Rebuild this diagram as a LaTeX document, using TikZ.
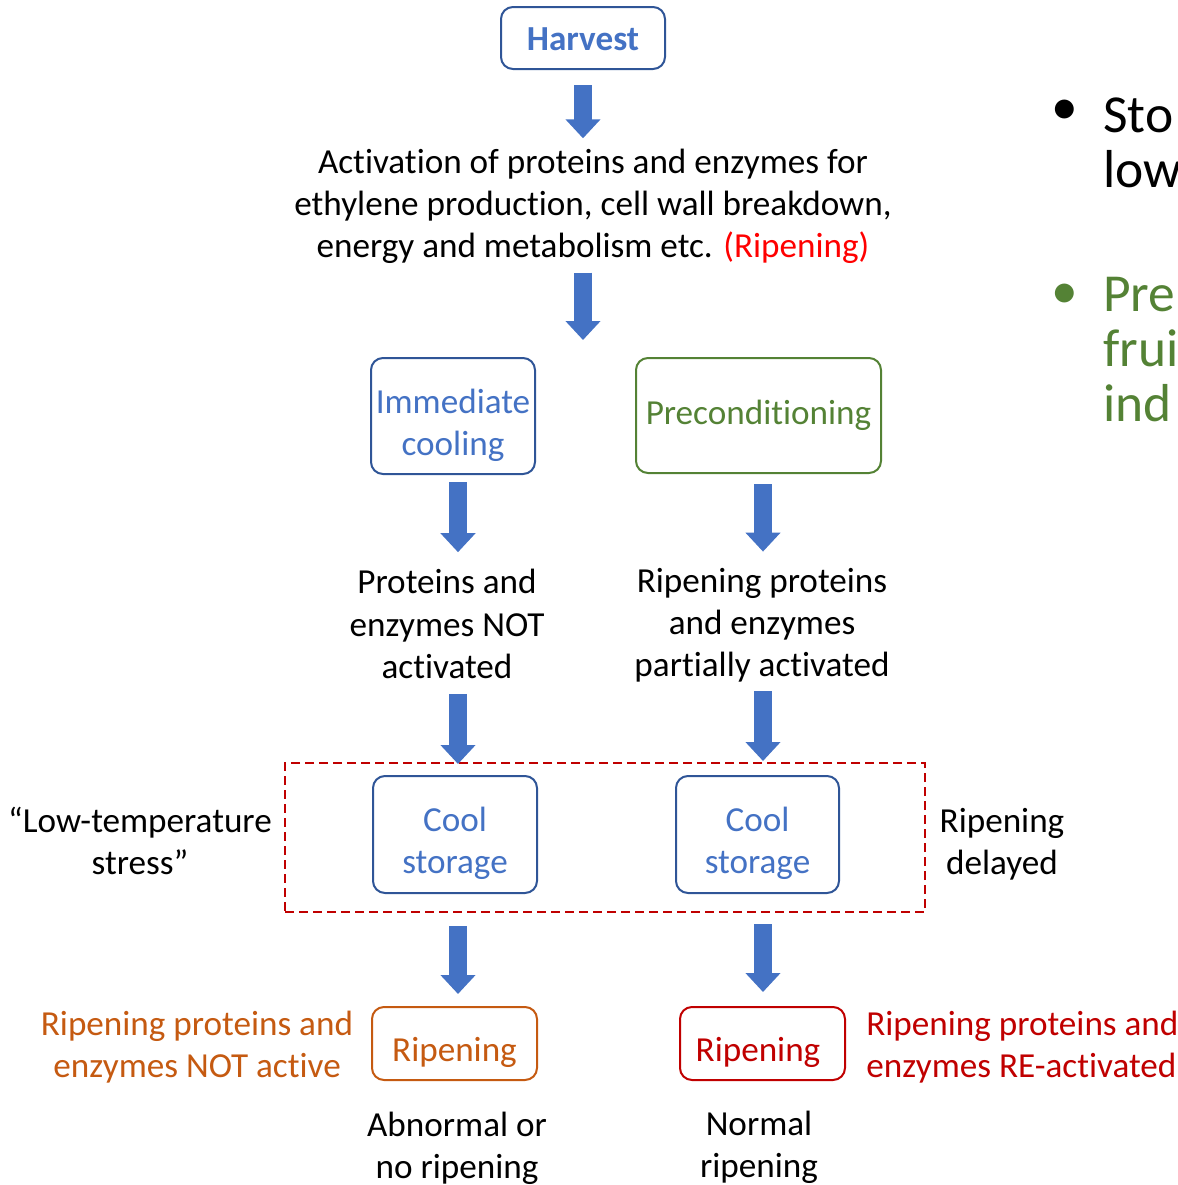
\documentclass[tikz,border=0pt]{standalone}
\usepackage{fontspec}
\setmainfont{Carlito}[Ligatures={NoCommon}]
\usetikzlibrary{arrows.meta}

\definecolor{boxblue}{HTML}{2F5597}
\definecolor{textblue}{HTML}{4472C4}
\definecolor{arrowblue}{HTML}{4472C4}
\definecolor{precgreen}{HTML}{548235}
\definecolor{ripeorange}{HTML}{C55A11}
\definecolor{ripedark}{HTML}{C00000}
\definecolor{ripered}{HTML}{FF0000}

\newlength\unitpx
\setlength\unitpx{0.025cm}
\newcommand\flowfont{\fontsize{25}{30}\selectfont}
\newcommand\sidefont{\fontsize{38}{39}\selectfont}

\begin{document}
\begin{tikzpicture}[x=0.025cm, y=-0.025cm,
	flowbox/.style={draw, rounded corners=12\unitpx, line width=2\unitpx, inner sep=0},
	txt/.style={inner sep=0, align=center, font=\flowfont},
	bigarrow/.style={draw=arrowblue, line width=18\unitpx, -{Triangle[width=0.85cm, length=0.475cm]}}]
	\useasboundingbox (0,0) rectangle (1178,1185);
	\clip (0,0) rectangle (1178,1185);

	% main column
	\node[flowbox, draw=boxblue, minimum width=164\unitpx, minimum height=62\unitpx] (harvest) at (583,38) {};
	\node[txt, text=textblue, font=\flowfont\bfseries] (harvestT) at (583,39) {Harvest};
	\node[txt] (act) at (593,206) {Activation of proteins and enzymes for\\ethylene production, cell wall breakdown,\\energy and metabolism etc. \textcolor{ripered}{(Ripening)}};
	\coordinate (split) at (583,340);

	% two branches
	\node[flowbox, draw=boxblue, minimum width=164\unitpx, minimum height=116\unitpx] (immcool) at (453,416) {};
	\node[txt, text=textblue] (immcoolT) at (453,425) {Immediate\\cooling};
	\node[flowbox, draw=precgreen, minimum width=245\unitpx, minimum height=115\unitpx] (precond) at (758.5,415.5) {};
	\node[txt, text=precgreen] (precondT) at (758.5,415.5) {Preconditioning};
	\node[txt] (notact) at (447,624) {Proteins and\\enzymes NOT\\activated};
	\node[txt] (partact) at (762,625) {Ripening proteins\\and enzymes\\partially activated};

	\node[draw=ripedark, dashed, dash pattern=on 9\unitpx off 5\unitpx, line width=2\unitpx, inner sep=0, minimum width=640\unitpx, minimum height=149\unitpx] (coolzone) at (605,837.5) {};
	\node[flowbox, draw=boxblue, minimum width=164\unitpx, minimum height=117\unitpx] (coolL) at (455,834.5) {};
	\node[txt, text=textblue] (coolLT) at (455,843.5) {Cool\\storage};
	\node[flowbox, draw=boxblue, minimum width=163\unitpx, minimum height=117\unitpx] (coolR) at (757.5,834.5) {};
	\node[txt, text=textblue] (coolRT) at (757.5,843.5) {Cool\\storage};
	\node[txt] (lowtemp) at (140,841) {``Low-temperature\\stress''};
	\node[txt] (delayed) at (1002,844) {Ripening\\delayed};

	\node[flowbox, draw=ripeorange, minimum width=165\unitpx, minimum height=73\unitpx] (ripL) at (454.5,1043.5) {};
	\node[txt, text=ripeorange] (ripLT) at (454.5,1052.5) {Ripening};
	\node[flowbox, draw=ripedark, minimum width=165\unitpx, minimum height=73\unitpx] (ripR) at (762.5,1043.5) {};
	\node[txt, text=ripedark] (ripRT) at (758,1052.5) {Ripening};
	\node[txt, text=ripeorange] (notactive) at (197,1047.5) {Ripening proteins and\\enzymes NOT active};
	\node[txt, text=ripedark, align=left, anchor=west] (reactive) at (866,1047.5) {Ripening proteins and\\enzymes RE-activated};
	\node[txt] (abnormal) at (457,1148) {Abnormal or\\no ripening};
	\node[txt] (normal) at (759,1147) {Normal\\ripening};

	% arrows
	\coordinate (lcol) at (458,0);
	\coordinate (rcol) at (763,0);
	\draw[bigarrow, shorten <=15\unitpx, shorten >=10\unitpx] (harvest.south) -- (harvest.south |- act.north);
	\draw[bigarrow, shorten <=9\unitpx] (split |- act.south) -- (split);
	\draw[bigarrow, shorten <=7\unitpx, shorten >=17\unitpx] (lcol |- immcool.south) -- (lcol |- notact.north);
	\draw[bigarrow, shorten <=10\unitpx, shorten >=16\unitpx] (rcol |- precond.south) -- (rcol |- partact.north);
	\draw[bigarrow, shorten <=15\unitpx, shorten >=11\unitpx] (lcol |- notact.south) -- (lcol |- coolL.north);
	\draw[bigarrow, shorten <=9\unitpx, shorten >=14\unitpx] (rcol |- partact.south) -- (rcol |- coolR.north);
	\draw[bigarrow, shorten <=32\unitpx, shorten >=12\unitpx] (lcol |- coolL.south) -- (lcol |- ripL.north);
	\draw[bigarrow, shorten <=30\unitpx, shorten >=14\unitpx] (rcol |- coolR.south) -- (rcol |- ripR.north);

	% side notes, cut at the edge
	\node[inner sep=0, font=\sidefont] (bulletA) at (1065,112) {•};
	\node[inner sep=0, font=\sidefont, align=left, anchor=base west] (storeA) at (1103,187) {Sto\\low};
	\node[inner sep=0, font=\sidefont, text=precgreen] (bulletB) at (1065,296) {•};
	\node[inner sep=0, font=\sidefont, text=precgreen, align=left, anchor=base west] (precB) at (1103,421) {Pre\\frui\\ind};
\end{tikzpicture}
\end{document}
